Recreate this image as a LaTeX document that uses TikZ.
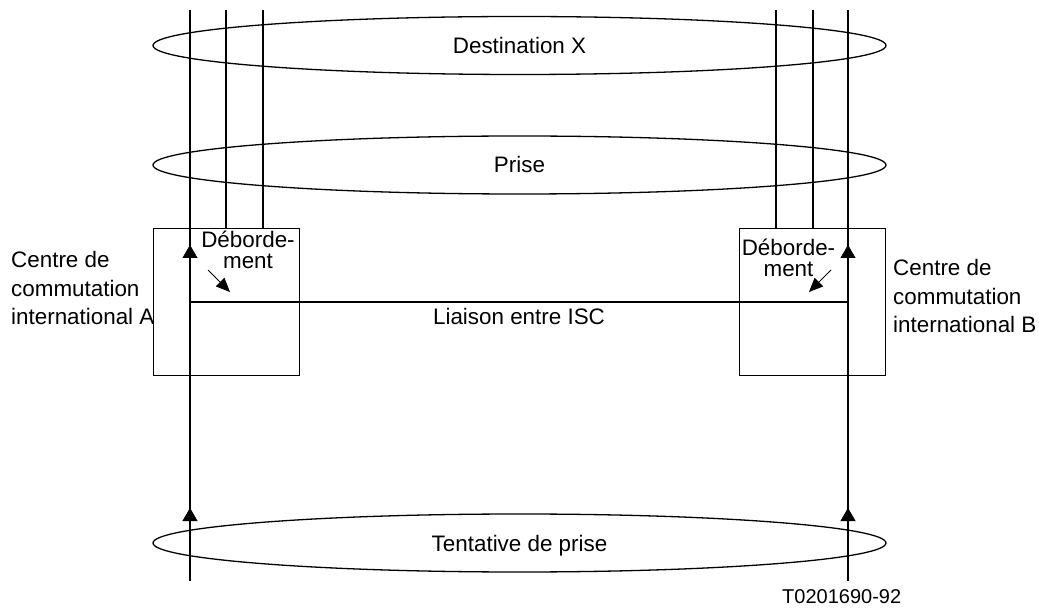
\documentclass[tikz,border=0pt]{standalone}
\usepackage{fontspec}
\setmainfont{Liberation Sans}
\usetikzlibrary{arrows.meta,shapes.geometric}
\begin{document}
\begin{tikzpicture}[x=1pt,y=-1pt,
  lbl/.style={font=\fontsize{22.4}{28.5}\selectfont, inner sep=0, align=left},
  deb/.style={font=\fontsize{22.4}{21}\selectfont, inner sep=0, align=center},
  cell/.style={draw, line width=1pt, minimum width=146pt, minimum height=147pt, inner sep=0},
  oval/.style={draw, ellipse, line width=1.3pt, minimum width=733pt, minimum height=58pt, inner sep=0,
    font=\fontsize{22.4}{26}\selectfont, text height=16pt, text depth=0pt},
  wire/.style={line width=2pt},
  up/.style={-{Triangle[width=15pt,length=13pt]}},
  slant/.style={line width=0.8pt,-{Triangle[width=12pt,length=14pt]}}
]
\useasboundingbox (0,0) rectangle (1039,609);
\fill[white] (0,0) rectangle (1039,609);

% ellipses
\node[oval] (dest) at (519.5,45.5) {Destination X};
\node[oval] (prise) at (519.5,165) {Prise};
\node[oval] (tent) at (519.5,543) {Tentative de prise};

% boxes
\node[cell] (A) at (226,302.5) {};
\node[cell] (B) at (812.5,302.5) {};

% coordinates
\coordinate (a1t) at (190,10);
\coordinate (a1b) at (190,581);
\coordinate (a2t) at (226,10);
\coordinate (a3t) at (263,10);
\coordinate (b1t) at (848,10);
\coordinate (b1b) at (848,581);
\coordinate (b2t) at (776,10);
\coordinate (b3t) at (813,10);
\coordinate (hl) at (190,302);
\coordinate (hr) at (848,302);

% wires
\draw[wire] (a1t) -- (a1b);
\draw[wire] (b1t) -- (b1b);
\draw[wire] (a2t) -- (a2t |- A.north);
\draw[wire] (a3t) -- (a3t |- A.north);
\draw[wire] (b2t) -- (b2t |- B.north);
\draw[wire] (b3t) -- (b3t |- B.north);
\draw[wire] (hl) -- (hr);

% upward arrowheads
\coordinate (ua1s) at (190,258); \coordinate (ua1e) at (190,245);
\coordinate (ua2s) at (190,521); \coordinate (ua2e) at (190,508);
\coordinate (ub1s) at (848,258); \coordinate (ub1e) at (848,245);
\coordinate (ub2s) at (848,521); \coordinate (ub2e) at (848,508);
\draw[up] (ua1s) -- (ua1e);
\draw[up] (ua2s) -- (ua2e);
\draw[up] (ub1s) -- (ub1e);
\draw[up] (ub2s) -- (ub2e);

% overflow arrows
\coordinate (da1) at (208,270); \coordinate (da2) at (230,292);
\coordinate (db1) at (831,270); \coordinate (db2) at (809,292);
\draw[slant] (da1) -- (da2);
\draw[slant] (db1) -- (db2);

% labels
\node[deb, anchor=base] (debA) at (248,269) {Déborde-\\ment};
\node[deb, anchor=base] (debB) at (788.5,277) {Déborde-\\ment};
\node[lbl, anchor=base west] (ca) at (11,325) {Centre de\\commutation\\international A};
\node[lbl, anchor=base west] (cb) at (893,333) {Centre de\\commutation\\international B};
\node[font=\fontsize{22.4}{26}\selectfont, inner sep=0, anchor=base] (liaison) at (519,325) {Liaison entre ISC};
\node[font=\fontsize{20}{22}\selectfont, inner sep=0, anchor=base west] (ref) at (782,603) {T0201690-92};
\end{tikzpicture}
\end{document}
